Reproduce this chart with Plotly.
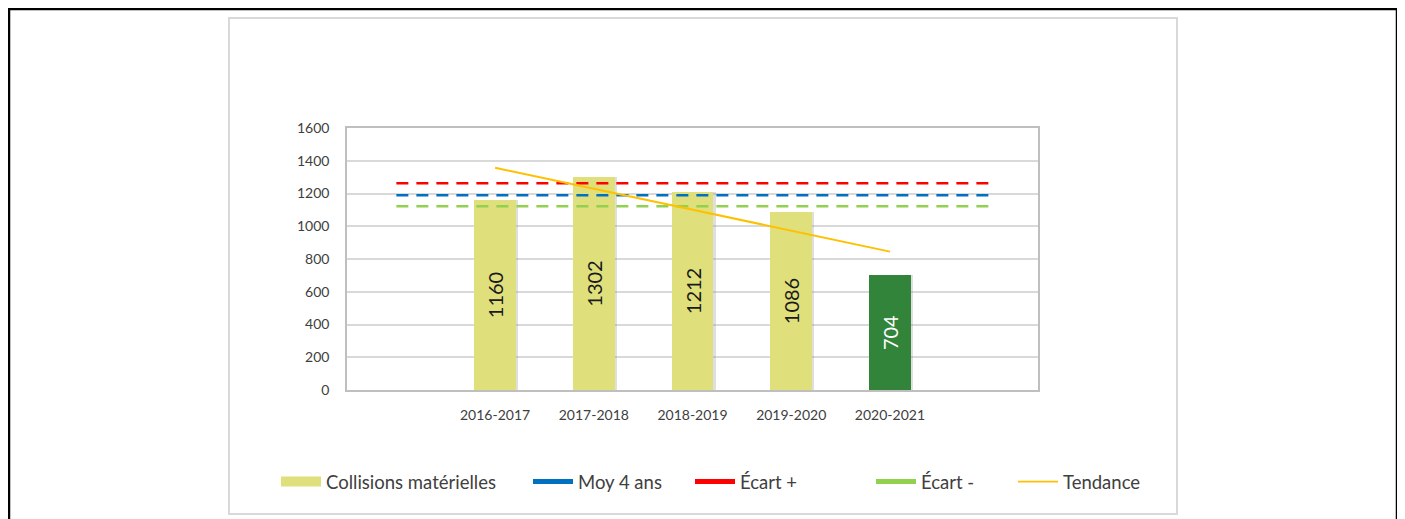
import plotly.graph_objects as go

# ---- data ----
categories = ["", "2016-2017", "2017-2018", "2018-2019", "2019-2020", "2020-2021", ""]
bar_labels = ["2016-2017", "2017-2018", "2018-2019", "2019-2020", "2020-2021"]
collisions = [1160, 1302, 1212, 1086, 704]
moy_4_ans = 1190
ecart_plus = 1262
ecart_moins = 1122
tendance_start = 1357   # value of trend line at 2016-2017
tendance_end = 845      # value of trend line at 2020-2021
y_ticks = [0, 200, 400, 600, 800, 1000, 1200, 1400, 1600]

# ---- positions derived from categories ----
idx = list(range(len(categories)))
bar_x = [categories.index(c) for c in bar_labels]
span_x = [idx[0], idx[-1]]

bar_colors = ["#dfdf7c"] * (len(collisions) - 1) + ["#32843a"]
text_colors = ["#1a1a1a"] * (len(collisions) - 1) + ["#ffffff"]

FONT = "Lato, 'Open Sans', sans-serif"

# screen geometry (page has an 8px body margin)
OFF = 8
W, H = 1405 - 2 * OFF, 519
L, R, T, B = 347 - OFF, 1038 - OFF, 128 - OFF, 390 - OFF
def px(x): return (x - OFF - L) / (R - L)
def py(y): return (B - (y - OFF)) / (B - T)

fig = go.Figure()

# bar shadow
fig.add_trace(go.Bar(
    x=[b + 0.025 for b in bar_x], y=collisions, width=0.42,
    marker=dict(color="rgba(150,150,150,0.30)", line=dict(width=0)),
    showlegend=False, hoverinfo="skip",
))

fig.add_trace(go.Bar(
    x=bar_x, y=collisions, width=0.42, name="Collisions matérielles",
    marker=dict(color=bar_colors, line=dict(width=0)),
    text=[str(v) for v in collisions], textposition="inside",
    textangle=-90, insidetextanchor="middle",
    textfont=dict(family=FONT, size=20, color=text_colors),
    showlegend=False, hoverinfo="skip",
))

line_specs = [
    ("Moy 4 ans", moy_4_ans, "#0070c0"),
    ("Écart +", ecart_plus, "#ff0000"),
    ("Écart -", ecart_moins, "#92d050"),
]
for name, val, col in line_specs:
    fig.add_trace(go.Scatter(
        x=span_x, y=[val, val], mode="lines", name=name,
        line=dict(color=col, width=2.5, dash="12px,8px"),
        showlegend=False, hoverinfo="skip",
    ))

fig.add_trace(go.Scatter(
    x=[bar_x[0], bar_x[-1]], y=[tendance_start, tendance_end], mode="lines",
    name="Tendance", line=dict(color="#ffc000", width=2),
    showlegend=False, hoverinfo="skip",
))

# legend-only entries, each in its own legend to place them like the reference
legend_items = [
    ("Collisions matérielles", "#dfdf7c", 12, 284),
    ("Moy 4 ans", "#0070c0", 5, 536),
    ("Écart +", "#ff0000", 5, 698),
    ("Écart -", "#92d050", 5, 879),
    ("Tendance", "#ffc000", 1.8, 1021),
]
legend_layout = {}
for i, (name, col, lw, xpos) in enumerate(legend_items):
    lname = "legend" if i == 0 else f"legend{i + 1}"
    fig.add_trace(go.Scatter(x=[None], y=[None], mode="lines", name=name,
                             line=dict(color=col, width=lw), legend=lname))
    legend_layout[lname] = dict(
        x=px(xpos - 8), xanchor="left", y=py(482), yanchor="middle",
        orientation="h", bgcolor="rgba(0,0,0,0)",
        font=dict(family=FONT, size=18.5, color="#404040"),
        itemwidth=40,
    )

shapes = [
    dict(type="rect", xref="paper", yref="paper",
         x0=px(9), x1=px(1397), y0=py(530), y1=py(9),
         line=dict(color="#000000", width=2.5), layer="below"),
    dict(type="rect", xref="paper", yref="paper",
         x0=px(229), x1=px(1177), y0=py(514), y1=py(18),
         line=dict(color="#d9d9d9", width=2), layer="below"),
]

fig.update_layout(
    width=W, height=H,
    margin=dict(l=L, r=W - R, t=T, b=H - B),
    paper_bgcolor="white", plot_bgcolor="white",
    barmode="overlay", bargap=0,
    font=dict(family=FONT, color="#404040"),
    shapes=shapes,
    **legend_layout,
    xaxis=dict(range=[-0.5, len(categories) - 0.5],
               tickvals=bar_x, ticktext=bar_labels,
               tickfont=dict(family=FONT, size=14, color="#404040"),
               showgrid=False, zeroline=False,
               showline=True, mirror=True, linecolor="#bfbfbf", linewidth=1.5,
               ticks="", ticklabelstandoff=11),
    yaxis=dict(range=[0, 1600], tickvals=y_ticks,
               tickfont=dict(family=FONT, size=14, color="#404040"),
               showgrid=True, gridcolor="#d9d9d9", gridwidth=1.5,
               zeroline=False,
               showline=True, mirror=True, linecolor="#bfbfbf", linewidth=1.5,
               ticks="", ticklabelstandoff=13),
)

fig.write_html("out.html")
